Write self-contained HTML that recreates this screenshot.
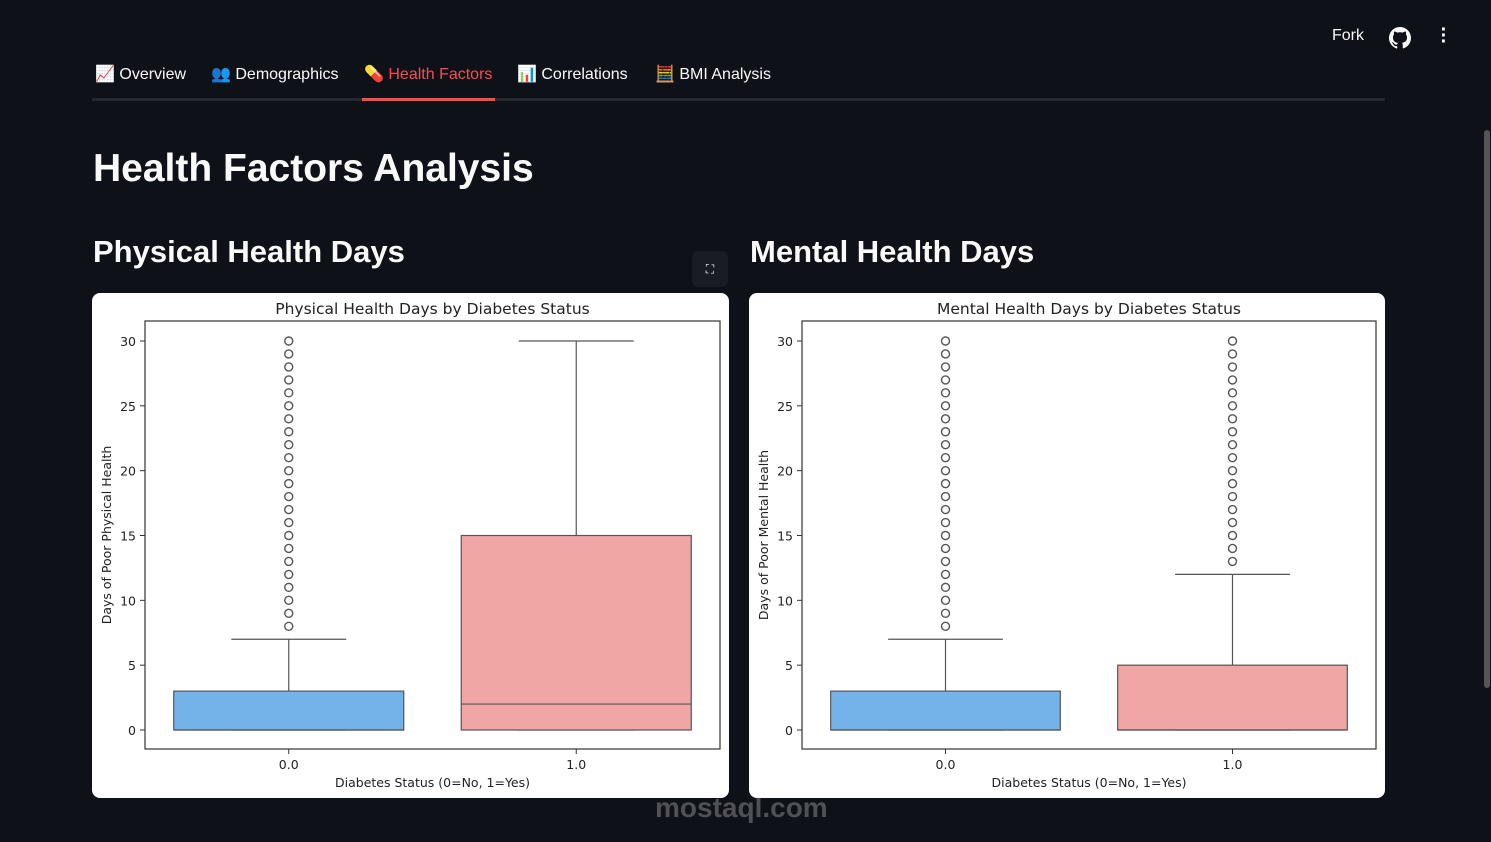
<!DOCTYPE html>
<html><head><meta charset="utf-8">
<style>
body{margin:0;width:1491px;height:842px;background:#0e1117;overflow:hidden;font-family:"Liberation Sans","DejaVu Sans",sans-serif;color:#fafafa;position:relative}
.abs{position:absolute}
.tab{position:absolute;top:64px;font-size:16px;color:#fafafa;white-space:nowrap}
.card{position:absolute;top:293px;width:637px;height:505px;background:#fff;border-radius:8px;overflow:hidden}
svg text{font-family:"DejaVu Sans",sans-serif}
</style></head><body>
<div class="abs" style="left:1332px;top:27px;font-size:16px">Fork</div>
<svg class="abs" style="left:1389px;top:27px" width="22" height="22" viewBox="0 0 16 16"><path fill="#fafafa" d="M8 0C3.6 0 0 3.6 0 8c0 3.5 2.3 6.5 5.5 7.6.4.1.5-.2.5-.4v-1.4c-2.200.5-2.700-1-2.700-1-.4-.9-.9-1.200-.9-1.200-.7-.5.1-.5.1-.5.8.1 1.200.8 1.200.8.7 1.200 1.900.9 2.300.7.1-.5.3-.9.5-1.100-1.800-.2-3.600-.9-3.600-4 0-.9.3-1.600.8-2.100-.1-.2-.4-1 .1-2.100 0 0 .7-.2 2.200.8.6-.2 1.300-.3 2-.3s1.400.1 2 .3c1.500-1 2.200-.8 2.200-.8.4 1.100.2 1.900.1 2.100.5.6.8 1.300.8 2.100 0 3.100-1.900 3.700-3.600 3.900.3.3.5.8.5 1.500v2.200c0 .2.1.5.6.4C13.700 14.500 16 11.500 16 8c0-4.400-3.600-8-8-8z"/></svg>
<div class="abs" style="left:1438px;top:27px;width:12px;height:22px;font-size:20px;line-height:6px;text-align:center;font-weight:bold">·<br>·<br>·</div>

<div class="tab" style="left:95px">📈 Overview</div>
<div class="tab" style="left:211px">👥 Demographics</div>
<div class="tab" style="left:364px;color:#ff4b4b">💊 Health Factors</div>
<div class="tab" style="left:517px">📊 Correlations</div>
<div class="tab" style="left:655px">🧮 BMI Analysis</div>
<div class="abs" style="left:92px;top:98px;width:1293px;height:3px;background:#262730"></div>
<div class="abs" style="left:362px;top:98px;width:133px;height:3px;background:#ff4b4b"></div>

<div class="abs" style="left:93px;top:147px;font-size:39px;font-weight:bold">Health Factors Analysis</div>
<div class="abs" style="left:93px;top:234px;font-size:31px;font-weight:bold">Physical Health Days</div>
<div class="abs" style="left:750px;top:234px;font-size:31px;font-weight:bold">Mental Health Days</div>
<div class="abs" style="left:692px;top:251px;width:36px;height:36px;background:#1a1c24;border-radius:6px;color:#fafafa;font-size:12px;text-align:center;line-height:36px">⛶</div>

<div class="card" style="left:92px"><svg id="c1" width="637" height="505"></svg></div>
<div class="card" style="left:749px;width:636px"><svg id="c2" width="637" height="505"></svg></div>
<div class="abs" style="left:1484px;top:130px;width:6px;height:558px;background:#555;border-radius:3px"></div>
<div class="abs" style="left:655px;top:792px;font-size:28px;font-weight:bold;color:rgba(200,200,200,0.35)">mostaql.com</div>

<script>
const categories=["0.0","1.0"];
const yTicks=[0,5,10,15,20,25,30];
const phys_q1=[0,0], phys_med=[0,2], phys_q3=[3,15], phys_wlo=[0,0], phys_whi=[7,30];
const phys_out0=[8,9,10,11,12,13,14,15,16,17,18,19,20,21,22,23,24,25,26,27,28,29,30];
const phys_out1=[];
const ment_q1=[0,0], ment_med=[0,0], ment_q3=[3,5], ment_wlo=[0,0], ment_whi=[7,12];
const ment_out0=[8,9,10,11,12,13,14,15,16,17,18,19,20,21,22,23,24,25,26,27,28,29,30];
const ment_out1=[13,14,15,16,17,18,19,20,21,22,23,24,25,26,27,28,29,30];
const colors=["#74b3ea","#f1a6a6"];
const NS="http://www.w3.org/2000/svg";
function mk(p,t,a){const e=document.createElementNS(NS,t);for(const k in a)e.setAttribute(k,a[k]);p.appendChild(e);return e;}
function draw(id,title,ylab,q1,med,q3,wlo,whi,outs,R){
  const s=document.getElementById(id);
  const L=53,T=28,B=456;
  const y=v=>437-v*12.967;
  const x=i=>L+(i+0.5)*(R-L)/2;
  const bw=0.8*(R-L)/2;
  let t=mk(s,'text',{x:(L+R)/2,y:21,'text-anchor':'middle','font-size':15.5,fill:'#222'});t.textContent=title;
  
  yTicks.forEach(v=>{mk(s,'line',{x1:L-5,x2:L,y1:y(v),y2:y(v),stroke:'#333'});
    const tx=mk(s,'text',{x:L-9,y:y(v)+5,'text-anchor':'end','font-size':12.5,fill:'#222'});tx.textContent=v;
    });
  categories.forEach((c,i)=>{
    const cx=x(i);
    mk(s,'line',{x1:cx,x2:cx,y1:y(q3[i]),y2:y(whi[i]),stroke:'#555','stroke-width':1.2});
    mk(s,'line',{x1:cx,x2:cx,y1:y(q1[i]),y2:y(wlo[i]),stroke:'#555','stroke-width':1.2});
    mk(s,'line',{x1:cx-bw/4,x2:cx+bw/4,y1:y(whi[i]),y2:y(whi[i]),stroke:'#555','stroke-width':1.2});
    mk(s,'line',{x1:cx-bw/4,x2:cx+bw/4,y1:y(wlo[i]),y2:y(wlo[i]),stroke:'#555','stroke-width':1.2});
    const b=mk(s,'rect',{x:cx-bw/2,y:y(q3[i]),width:bw,height:y(q1[i])-y(q3[i]),fill:colors[i],stroke:'#555','stroke-width':1.2});
    
    mk(s,'line',{x1:cx-bw/2,x2:cx+bw/2,y1:y(med[i]),y2:y(med[i]),stroke:'#555','stroke-width':1.2});
    outs[i].forEach(v=>{const o=mk(s,'circle',{cx:cx,cy:y(v),r:4,fill:'none',stroke:'#555','stroke-width':1.4});
      });
    mk(s,'line',{x1:cx,x2:cx,y1:B,y2:B+5,stroke:'#333'});
    const tl=mk(s,'text',{x:cx,y:B+20,'text-anchor':'middle','font-size':12.5,fill:'#222'});tl.textContent=c;
    
  });
  mk(s,'rect',{x:L,y:T,width:R-L,height:B-T,fill:'none',stroke:'#333','stroke-width':1.2});
  const xl=mk(s,'text',{x:(L+R)/2,y:494,'text-anchor':'middle','font-size':12.5,fill:'#222'});xl.textContent='Diabetes Status (0=No, 1=Yes)';
  
  const yl=mk(s,'text',{x:0,y:0,'text-anchor':'middle','font-size':12.5,fill:'#222',transform:`translate(19,${(T+B)/2}) rotate(-90)`});yl.textContent=ylab;
  
}
draw('c1','Physical Health Days by Diabetes Status','Days of Poor Physical Health',phys_q1,phys_med,phys_q3,phys_wlo,phys_whi,[phys_out0,phys_out1],628);
draw('c2','Mental Health Days by Diabetes Status','Days of Poor Mental Health',ment_q1,ment_med,ment_q3,ment_wlo,ment_whi,[ment_out0,ment_out1],627);
</script>
</body></html>
